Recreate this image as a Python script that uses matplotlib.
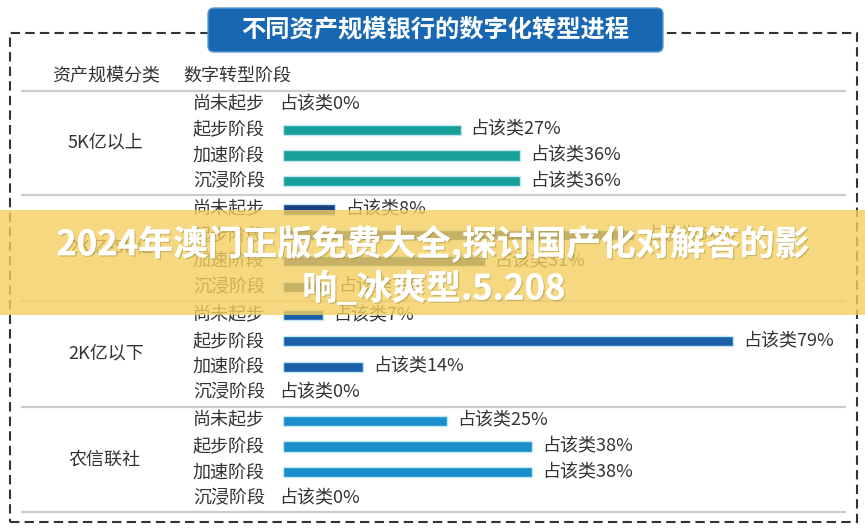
import matplotlib
matplotlib.use("Agg")
import matplotlib.pyplot as plt
from matplotlib.patches import Rectangle, FancyBboxPatch
from matplotlib.lines import Line2D
import matplotlib.patheffects as pe

plt.rcParams['font.family'] = ['Noto Sans CJK SC', 'DejaVu Sans']

# ---------------- data ----------------
title = '不同资产规模银行的数字化转型进程'
header_group = '资产规模分类'
header_stage = '数字转型阶段'
groups = ['5K亿以上', '2K亿-5K亿', '2K亿以下', '农信联社']
stages = ['尚未起步', '起步阶段', '加速阶段', '沉浸阶段']
share_5k_plus = [0, 27, 36, 36]
share_2k_5k = [8, 54, 31, 7]
share_2k_minus = [7, 79, 14, 0]
share_rural = [25, 38, 38, 0]
label_prefix = '占该类'
overlay_lines = ['2024年澳门正版免费大全,探讨国产化对解答的影', '响_冰爽型.5.208']

series = [share_5k_plus, share_2k_5k, share_2k_minus, share_rural]
colors = ['#17a09a', '#1d3e85', '#1a5fa8', '#1a8dcb']
px_per_pct = [6.58, 6.5, 5.7, 6.55]

# ---------------- layout helpers ----------------
W, H = 865, 529
fig = plt.figure(figsize=(W / 100, H / 100), dpi=100)
fig.patch.set_facecolor('white')


def fx(x):
    return x / W


def fy(y):
    return 1 - y / H


text_color = '#333333'
row0 = 104.0
row_step = 25.75
group_step = 4.1


def row_px(g, r):
    return row0 + (g * group_step + r) * row_step


bar_left = 283
bar_right = 845
ax_w = bar_right - bar_left

# dashed frame
frame = Rectangle((10 / 100, (H - 522) / 100), (857 - 10) / 100, (522 - 33) / 100,
                  transform=fig.dpi_scale_trans, fill=False, edgecolor='#333333',
                  lw=1.5, linestyle=(0, (4.5, 2.5)), zorder=2)
fig.add_artist(frame)

# title box
tbox = FancyBboxPatch((208 / 100, (H - 52) / 100), (663 - 208) / 100, (52 - 8) / 100,
                      boxstyle='round,pad=0,rounding_size=0.06',
                      transform=fig.dpi_scale_trans, facecolor='#1767b3',
                      edgecolor='#5b9ad6', lw=1.0, zorder=3)
fig.add_artist(tbox)
fig.text(fx(435), fy(30), title, ha='center', va='center', color='white',
         fontsize=17.5, fontweight='bold', zorder=4)

# header
fig.text(fx(52), fy(76), header_group, ha='left', va='center', color=text_color, fontsize=13)
fig.text(fx(183), fy(76), header_stage, ha='left', va='center', color=text_color, fontsize=13)

# separator lines
sep_ys = [row0 - 0.5 * row_step]
for g in range(len(groups)):
    sep_ys.append(row_px(g, 3) + 0.55 * row_step)
for y in sep_ys:
    fig.add_artist(Line2D([fx(22), fx(845)], [fy(y), fy(y)], color='#cccccc', lw=1.6,
                          transform=fig.transFigure, zorder=1))

# groups
for g, (gname, vals) in enumerate(zip(groups, series)):
    top = row_px(g, -0.5)
    bottom = row_px(g, 3.5)
    ax = fig.add_axes([fx(bar_left), fy(bottom), ax_w / W, (bottom - top) / H])
    ax.set_xlim(0, ax_w / px_per_pct[g])
    ax.set_ylim(3.5, -0.5)
    ax.axis('off')
    ax.patch.set_alpha(0)
    ax.barh(range(len(stages)), vals, height=0.4, color=colors[g],
            edgecolor='#bfe9f2', linewidth=1.0)
    for i, v in enumerate(vals):
        off = 10 if v > 0 else -4
        ax.annotate(f'{label_prefix}{v}%', (v, i), xytext=(off, 0),
                    textcoords='offset pixels', ha='left', va='center',
                    fontsize=13, color=text_color, annotation_clip=False)
    # labels
    gc = (row_px(g, 0) + row_px(g, 3)) / 2
    fig.text(fx(68), fy(gc), gname, ha='left', va='center', color=text_color, fontsize=13)
    for r, s in enumerate(stages):
        fig.text(fx(193), fy(row_px(g, r)), s, ha='left', va='center',
                 color=text_color, fontsize=13)

# overlay band
band = Rectangle((0, fy(315)), 1, (315 - 210) / H, transform=fig.transFigure,
                 facecolor='#f3cf5f', alpha=0.8, edgecolor='none', zorder=5)
fig.add_artist(band)
shadow = [pe.withSimplePatchShadow(offset=(1, -1), shadow_rgbFace='#8a7a40', alpha=0.35), pe.Normal()]
fig.text(fx(433), fy(244), overlay_lines[0], ha='center', va='center', color='white',
         fontsize=25, fontweight='bold', zorder=6, path_effects=shadow)
fig.text(fx(434), fy(289), overlay_lines[1], ha='center', va='center', color='white',
         fontsize=25, fontweight='bold', zorder=6, path_effects=shadow)

fig.savefig('out.png', dpi=100, facecolor='white')
